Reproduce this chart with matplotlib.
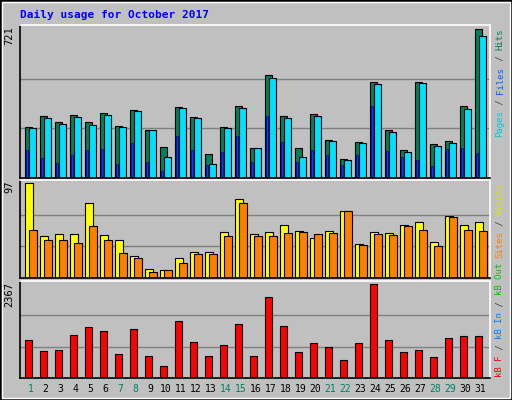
import numpy as np
import matplotlib.pyplot as plt
from matplotlib.patches import Rectangle

# Webalizer style daily usage, October 2017
days = list(range(1, 32))
weekend = [1, 7, 8, 14, 15, 21, 22, 28, 29]

hits = [247, 301, 271, 305, 271, 316, 253, 331, 235, 152, 345, 295, 117, 247, 350, 144, 500, 302, 147, 310, 183, 90, 173, 466, 232, 134, 466, 163, 178, 350, 721]
files = [242, 292, 261, 295, 257, 305, 247, 326, 235, 100, 340, 291, 70, 242, 340, 144, 485, 292, 100, 300, 178, 85, 168, 456, 223, 125, 460, 157, 168, 336, 691]
pages = [134, 95, 75, 114, 134, 139, 70, 168, 80, 36, 202, 134, 65, 124, 202, 80, 301, 173, 80, 134, 110, 65, 114, 350, 129, 100, 85, 56, 139, 144, 120]

visits = [97, 43, 45, 45, 76, 44, 39, 22, 9, 8, 20, 27, 27, 47, 81, 45, 47, 54, 48, 41, 48, 68, 35, 47, 46, 54, 57, 37, 63, 54, 57]
sites = [49, 39, 39, 36, 53, 39, 25, 20, 6, 8, 15, 24, 24, 43, 76, 43, 43, 46, 47, 45, 46, 68, 34, 45, 44, 53, 49, 33, 62, 49, 48]

kbytes = [967, 682, 708, 1071, 1278, 1175, 604, 1226, 553, 294, 1434, 916, 553, 838, 1356, 553, 2031, 1304, 665, 873, 769, 449, 873, 2367, 967, 665, 708, 527, 993, 1045, 1045]

BG = '#C0C0C0'
W, H = 512, 400
fig = plt.figure(figsize=(5.12, 4.0), dpi=100, facecolor=BG)
fig.patches.append(Rectangle((0, 0), 1, 1, transform=fig.transFigure, fill=False,
                             edgecolor='#000000', lw=2))
fig.patches.append(Rectangle((2 / W, 2 / H), 1 - 4 / W, 1 - 4 / H, transform=fig.transFigure,
                             fill=False, edgecolor='#FFFFFF', lw=1))

fig.text(20 / W, 1 - 15 / H, 'Daily usage for October 2017', color='#0000FF',
         family='DejaVu Sans Mono', fontweight='bold', fontsize=8, va='center')

x = np.arange(31)


def panel(top, bottom, vmax):
    ax = fig.add_axes([20 / W, 1 - bottom / H, 470 / W, (bottom - top) / H])
    ax.set_facecolor(BG)
    ax.set_xlim(-0.33, 31)
    ax.set_ylim(0, vmax * 1.03)
    for g in (vmax / 3, vmax * 2 / 3):
        ax.axhline(g, color='#808080', lw=1, zorder=0)
    ax.set_xticks([])
    ax.set_yticks([])
    for s in ('left', 'bottom'):
        ax.spines[s].set_color('#000000')
    for s in ('top', 'right'):
        ax.spines[s].set_color('#FFFFFF')
    for s in ax.spines.values():
        s.set_linewidth(1.2)
    ax.text(-0.012, 0.99, f'{vmax}', transform=ax.transAxes, rotation=90,
            ha='right', va='top', family='DejaVu Sans Mono', fontsize=7.5)
    return ax


def side_label(bottom, parts):
    # rotated multi-colour label, drawn bottom-up
    fs = 6.5
    adv = 0.602 * fs * 100 / 72
    y = bottom
    for txt, col in parts:
        fig.text(500 / W, 1 - y / H, txt, rotation=90, color=col, family='DejaVu Sans Mono',
                 fontsize=fs, ha='center', va='bottom')
        y -= adv * len(txt)


kw = dict(align='edge', edgecolor='#000000', linewidth=0.8)

ax1 = panel(25, 178, 721)
ax1.bar(x, hits, width=0.47, color='#00805C', **kw)
ax1.bar(x + 0.27, files, width=0.47, color='#00E0FF', **kw)
ax1.bar(x + 0.07, pages, width=0.13, color='#0040FF', edgecolor='#000080', linewidth=0.5, align='edge')
side_label(137, [('Pages', '#00C8E0'), (' / ', '#404040'), ('Files', '#0060FF'),
                 (' / ', '#404040'), ('Hits', '#00805C')])

ax2 = panel(180, 278, 97)
ax2.bar(x, visits, width=0.55, color='#FFFF00', **kw)
ax2.bar(x + 0.27, sites, width=0.5, color='#FF8000', **kw)
side_label(258, [('Sites', '#FF8000'), (' / ', '#404040'), ('Visits', '#E0E000')])

ax3 = panel(281, 378, 2367)
ax3.bar(x, kbytes, width=0.5, color='#FF0000', **kw)
side_label(377, [('kB F', '#FF0000'), (' / ', '#404040'), ('kB In', '#0080FF'),
                 (' / ', '#404040'), ('kB Out', '#00C000')])

for d in days:
    col = '#008060' if d in weekend else '#000000'
    xf = (20 + (d - 1 + 0.33 + 0.37) * 470 / 31.33) / W
    fig.text(xf, 1 - 389 / H, str(d), color=col, family='DejaVu Sans Mono',
             fontsize=7, ha='center', va='center')

fig.savefig('out.png', dpi=100, facecolor=BG)
